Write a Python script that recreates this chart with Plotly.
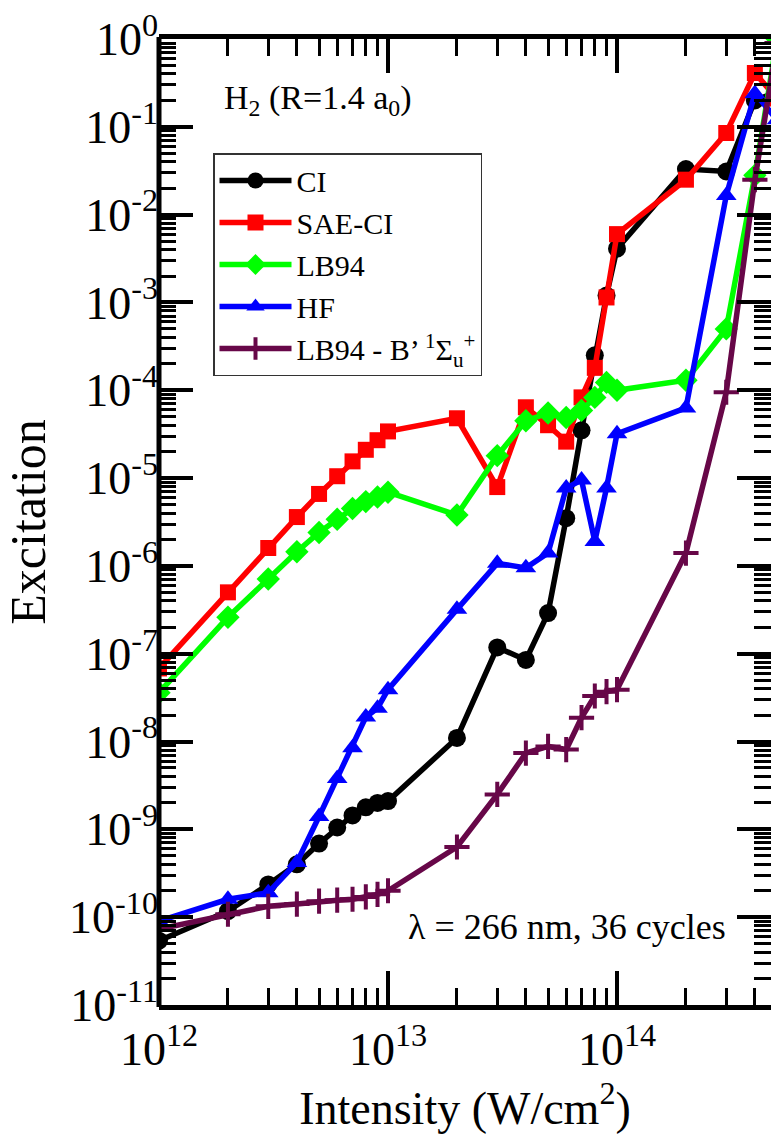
import plotly.graph_objects as go

intensity = [1e12, 2e12, 3e12, 4e12, 5e12, 6e12, 7e12, 8e12, 9e12,
             1e13, 2e13, 3e13, 4e13, 5e13, 6e13, 7e13, 8e13, 9e13,
             1e14, 2e14, 3e14, 4e14, 5e14]

ci = [5.4e-11, 1.17e-10, 2.36e-10, 4.0e-10, 6.9e-10, 1.05e-9, 1.44e-9, 1.78e-9, 2.0e-9,
      2.1e-9, 1.1e-8, 1.18e-7, 8.5e-8, 2.9e-7, 3.5e-6, 3.5e-5, 2.5e-4, 1.2e-3,
      4.1e-3, 3.3e-2, 3.1e-2, 0.2, 0.25]
sae_ci = [6.8e-8, 5.0e-7, 1.6e-6, 3.6e-6, 6.6e-6, 1.05e-5, 1.55e-5, 2.1e-5, 2.7e-5,
          3.4e-5, 4.8e-5, 7.9e-6, 6.4e-5, 4.0e-5, 2.6e-5, 8.3e-5, 1.8e-4, 1.14e-3,
          6.0e-3, 2.5e-2, 8.5e-2, 0.41, 0.21]
lb94 = [3.6e-8, 2.6e-7, 7.1e-7, 1.45e-6, 2.4e-6, 3.4e-6, 4.5e-6, 5.4e-6, 6.1e-6,
        6.9e-6, 3.8e-6, 1.8e-5, 4.5e-5, 5.5e-5, 4.9e-5, 5.9e-5, 8.3e-5, 1.23e-4,
        1.0e-4, 1.3e-4, 5.0e-4, 2.8e-2, 1.0]
hf = [9.0e-11, 1.6e-10, 1.9e-10, 4.2e-10, 1.4e-9, 3.8e-9, 8.5e-9, 1.9e-8, 2.4e-8,
      3.9e-8, 3.2e-7, 1.07e-6, 9.5e-7, 1.4e-6, 7.7e-6, 9.5e-6, 1.9e-6, 7.7e-6,
      3.2e-5, 6.3e-5, 1.65e-2, 0.24, 0.12]
lb94_b = [7.3e-11, 1.08e-10, 1.33e-10, 1.41e-10, 1.52e-10, 1.56e-10, 1.6e-10, 1.7e-10, 1.82e-10,
          2.0e-10, 6.3e-10, 2.5e-9, 7.4e-9, 8.8e-9, 8.1e-9, 1.87e-8, 3.3e-8, 3.7e-8,
          3.9e-8, 1.4e-6, 9.5e-5, 2.5e-2, 0.9]

x_tick_vals = [1e12, 1e13, 1e14]
x_tick_text = ["10<sup>12</sup>", "10<sup>13</sup>", "10<sup>14</sup>"]
y_exponents = list(range(-11, 1))
y_tick_vals = [10.0 ** e for e in y_exponents]
y_tick_text = ["10<sup>%d</sup>" % e for e in y_exponents]

FONT = "Times New Roman, Liberation Serif, Times, serif"
W, H = 771, 1139
ML, MT, MB = 159, 39, 134

x_minor = [m * 10.0 ** e for e in range(12, 15) for m in range(2, 10)]
y_minor = [m * 10.0 ** e for e in range(-11, 0) for m in range(2, 10)]

fig = go.Figure()

series = [
    ("CI", ci, "#000000", "circle", 18),
    ("SAE-CI", sae_ci, "#ff0000", "square", 16),
    ("LB94", lb94, "#00ff00", "diamond", 18),
    ("HF", hf, "#0000ff", "triangle-up", 18),
]
for name, vals, col, sym, sz in series:
    fig.add_trace(go.Scatter(
        x=intensity, y=vals, name=name, mode="lines+markers",
        line=dict(color=col, width=5.5),
        marker=dict(symbol=sym, size=sz, color=col, line=dict(width=0)),
    ))

fig.add_trace(go.Scatter(
    x=intensity, y=lb94_b,
    name="LB94 - B\u2019 <sup>1</sup>\u03a3<sub>u</sub><sup>+</sup>",
    mode="lines+markers",
    line=dict(color="#670748", width=5.5),
    marker=dict(symbol="cross-thin", size=18, color="#670748",
                line=dict(width=4, color="#670748")),
))

axis_common = dict(
    type="log", showgrid=False, zeroline=False,
    ticks="inside", ticklen=34, tickwidth=4, tickcolor="black",
    tickfont=dict(family=FONT, size=46, color="black"),
    tickmode="array",
)

fig.update_xaxes(
    **axis_common,
    range=[12, 12 + (W - ML) / 229.0],
    tickvals=x_tick_vals, ticktext=x_tick_text,
    showline=True, linewidth=5, linecolor="black", mirror="ticks",
    minor=dict(ticks="inside", ticklen=17, tickwidth=3, tickcolor="black",
               tickmode="array", tickvals=x_minor),
    title=dict(text="Intensity (W/cm<sup>2</sup>)",
               font=dict(family=FONT, size=46, color="black"), standoff=10),
)
fig.update_yaxes(
    **axis_common,
    range=[-11, 0],
    tickvals=y_tick_vals, ticktext=y_tick_text,
    showline=False, mirror="ticks",
    minor=dict(ticks="inside", ticklen=17, tickwidth=3, tickcolor="black",
               tickmode="array", tickvals=y_minor),
    title=dict(text="Excitation",
               font=dict(family=FONT, size=50, color="black"), standoff=10),
)

fig.add_shape(type="line", xref="paper", yref="paper", x0=0, x1=0, y0=-0.002, y1=1.002,
              line=dict(color="black", width=5))

fig.add_annotation(
    text="H<sub>2</sub> (R=1.4 a<sub>0</sub>)", xref="paper", yref="paper",
    x=(222 - ML) / (W - ML), y=1 - (100 - MT) / (H - MT - MB),
    xanchor="left", yanchor="middle", showarrow=False,
    font=dict(family=FONT, size=34, color="black"),
)
fig.add_annotation(
    text="\u03bb = 266 nm, 36 cycles", xref="paper", yref="paper",
    x=(728 - ML) / (W - ML), y=1 - (927 - MT) / (H - MT - MB),
    xanchor="right", yanchor="middle", showarrow=False,
    font=dict(family=FONT, size=36, color="black"),
)

fig.update_layout(
    width=W, height=H,
    margin=dict(l=ML, r=0, t=MT, b=MB),
    paper_bgcolor="white", plot_bgcolor="white",
    showlegend=True,
    legend=dict(
        x=(213 - ML) / (W - ML), y=1 - (153 - MT) / (H - MT - MB),
        xanchor="left", yanchor="top",
        bgcolor="white", bordercolor="#333333", borderwidth=1.5,
        font=dict(family=FONT, size=30, color="black"),
        itemwidth=72, tracegroupgap=0,
    ),
)

fig.write_html("out.html")
